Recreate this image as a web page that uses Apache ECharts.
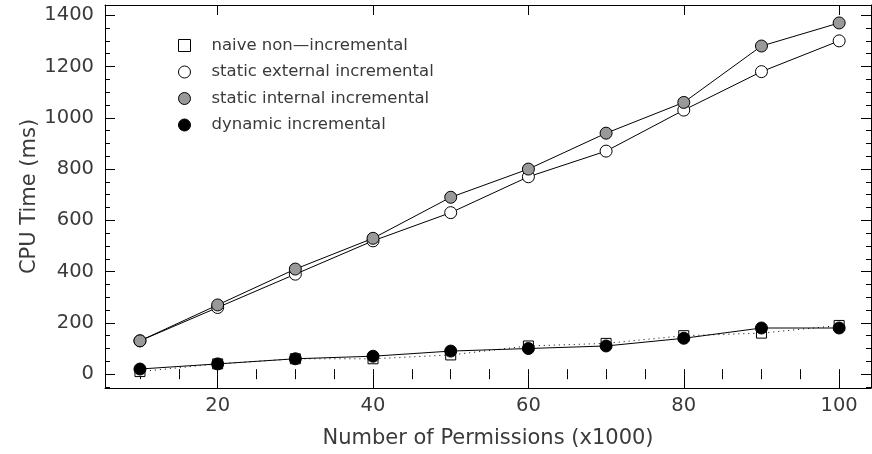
<!DOCTYPE html>
<html>
<head>
<meta charset="utf-8">
<script src="https://cdn.jsdelivr.net/npm/echarts@6/dist/echarts.min.js"></script>
<style>
  html, body { margin: 0; padding: 0; background: #fff; }
  #chart { width: 872px; height: 454px; }
</style>
</head>
<body>
<div id="chart"></div>
<script>
const permissions = [10, 20, 30, 40, 50, 60, 70, 80, 90, 100]
const naive = [10, 40, 60, 60, 75, 110, 120, 150, 160, 190]
const staticExternal = [130, 260, 390, 520, 630, 770, 870, 1030, 1180, 1300]
const staticInternal = [130, 270, 410, 530, 690, 800, 940, 1060, 1280, 1370]
const dynamic = [20, 40, 60, 70, 90, 100, 110, 140, 180, 180]

const xMajor = [20, 40, 60, 80, 100]
const xMinor = [10, 15, 20, 25, 30, 35, 40, 45, 50, 55, 60, 65, 70, 75, 80, 85, 90, 95, 100]
const yMajor = [0, 200, 400, 600, 800, 1000, 1200, 1400]
const yMinor = [-50, 0, 50, 100, 150, 200, 250, 300, 350, 400, 450, 500, 550, 600, 650, 700,
  750, 800, 850, 900, 950, 1000, 1050, 1100, 1150, 1200, 1250, 1300, 1350, 1400]

const font = 'DejaVu Sans'
const textColor = '#3a3a3a'
const X_MIN = 5.5
const X_MAX = 104.1
const Y_MIN = -54
const Y_MAX = 1440

function pairs(ys) {
  return permissions.map((x, i) => [x, ys[i]])
}

// one axis = just a set of inward ticks (plus optional line/labels)
function xAx(pos, ticks, len, opts) {
  return Object.assign({
    type: 'value', position: pos, min: X_MIN, max: X_MAX,
    axisLine: { show: false },
    axisTick: { show: true, inside: true, length: len, customValues: ticks, lineStyle: { color: '#000' } },
    axisLabel: { show: false },
    splitLine: { show: false }
  }, opts || {})
}
function yAx(pos, ticks, len, opts) {
  return Object.assign({
    type: 'value', position: pos, min: Y_MIN, max: Y_MAX,
    axisLine: { show: false },
    axisTick: { show: true, inside: true, length: len, customValues: ticks, lineStyle: { color: '#000' } },
    axisLabel: { show: false },
    splitLine: { show: false }
  }, opts || {})
}

const frameLine = { show: true, onZero: false, lineStyle: { color: '#000', width: 1 } }

const chart = echarts.init(document.getElementById('chart'))
chart.setOption({
  animation: false,
  grid: { left: 105, right: 1, top: 5, bottom: 65 },
  legend: {
    orient: 'vertical',
    left: 173,
    top: 32,
    itemWidth: 12,
    itemHeight: 12,
    itemGap: 9.5,
    textStyle: { fontFamily: font, fontSize: 16.5, lineHeight: 16, color: textColor, padding: [0, 0, 0, 16] },
    data: [
      { name: 'naive non—incremental', icon: 'rect', itemStyle: { color: '#fff', borderColor: '#000', borderWidth: 1 } },
      { name: 'static external incremental', icon: 'circle', itemStyle: { color: '#fff', borderColor: '#000', borderWidth: 1 } },
      { name: 'static internal incremental', icon: 'circle', itemStyle: { color: '#999', borderColor: '#000', borderWidth: 1 } },
      { name: 'dynamic incremental', icon: 'circle', itemStyle: { color: '#000', borderColor: '#000', borderWidth: 1 } }
    ]
  },
  xAxis: [
    xAx('bottom', xMajor, 10, {
      axisLine: frameLine,
      name: 'Number of Permissions (x1000)',
      nameLocation: 'middle',
      nameGap: 40,
      nameTextStyle: { fontFamily: font, fontSize: 21, color: textColor },
      axisLabel: { show: true, customValues: xMajor, margin: 8, fontFamily: font, fontSize: 19.5, color: textColor }
    }),
    xAx('bottom', xMinor, 5),
    xAx('top', xMajor, 10, { axisLine: frameLine }),
    xAx('top', xMinor, 5)
  ],
  yAxis: [
    yAx('left', yMajor, 10, {
      axisLine: frameLine,
      name: 'CPU Time (ms)',
      nameLocation: 'middle',
      nameGap: 65,
      nameMoveOverlap: false,
      nameTextStyle: { fontFamily: font, fontSize: 21, color: textColor },
      axisLabel: {
        show: true, customValues: yMajor, margin: 11, fontFamily: font, fontSize: 19.5, color: textColor,
        formatter: v => String(v)
      }
    }),
    yAx('left', yMinor, 5),
    yAx('right', yMajor, 10, { axisLine: frameLine }),
    yAx('right', yMinor, 5)
  ],
  series: [
    {
      name: 'naive non—incremental',
      type: 'line',
      data: pairs(naive),
      symbol: 'rect',
      symbolSize: 10,
      itemStyle: { color: '#fff', borderColor: '#000', borderWidth: 1 },
      lineStyle: { color: '#000', width: 1, type: [1, 4] }
    },
    {
      name: 'static external incremental',
      type: 'line',
      data: pairs(staticExternal),
      symbol: 'circle',
      symbolSize: 12,
      itemStyle: { color: '#fff', borderColor: '#000', borderWidth: 1 },
      lineStyle: { color: '#000', width: 1 }
    },
    {
      name: 'static internal incremental',
      type: 'line',
      data: pairs(staticInternal),
      symbol: 'circle',
      symbolSize: 12,
      itemStyle: { color: '#999', borderColor: '#000', borderWidth: 1 },
      lineStyle: { color: '#000', width: 1 }
    },
    {
      name: 'dynamic incremental',
      type: 'line',
      data: pairs(dynamic),
      symbol: 'circle',
      symbolSize: 12,
      itemStyle: { color: '#000', borderColor: '#000', borderWidth: 1 },
      lineStyle: { color: '#000', width: 1 }
    }
  ]
})
</script>
</body>
</html>
